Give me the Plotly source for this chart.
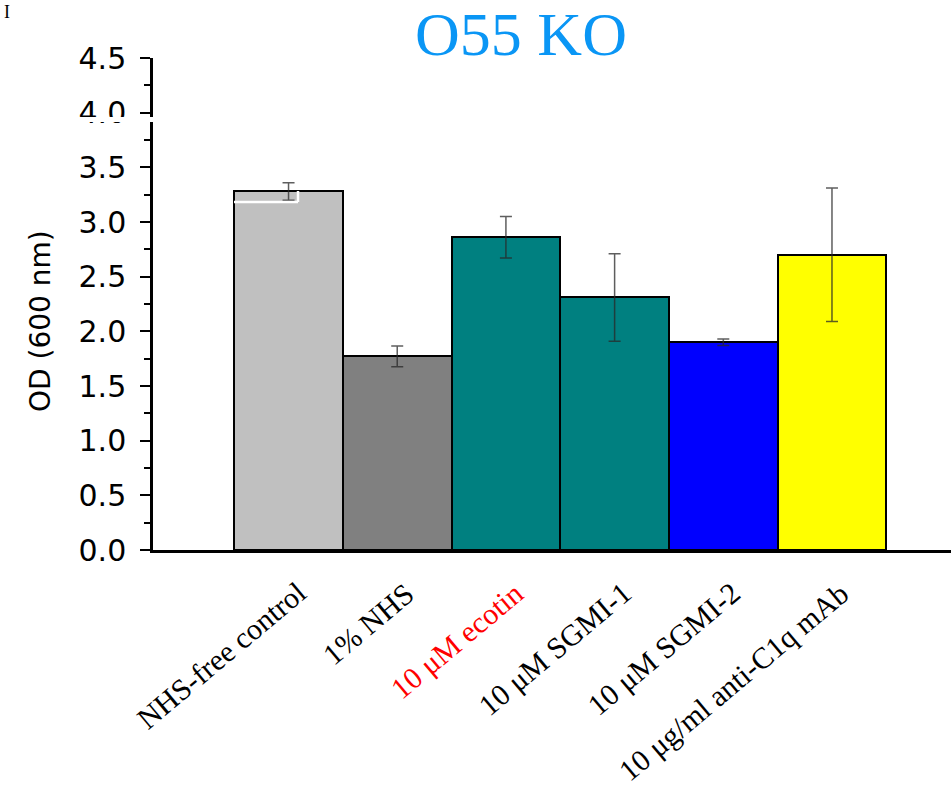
import plotly.graph_objects as go

categories = ["NHS-free control", "1% NHS", "10 μM ecotin", "10 μM SGMI-1",
              "10 μM SGMI-2", "10 μg/ml anti-C1q mAb"]
od_values = [3.28, 1.77, 2.86, 2.31, 1.90, 2.70]
od_errors = [0.08, 0.095, 0.19, 0.40, 0.03, 0.61]
bar_colors = ["#C0C0C0", "#808080", "#008080", "#008080", "#0000FF", "#FFFF00"]
label_colors = ["black", "black", "red", "black", "black", "black"]
y_ticks = [0.0, 0.5, 1.0, 1.5, 2.0, 2.5, 3.0, 3.5, 4.0, 4.5]

W, H = 951, 791
L, R, T, B = 153, 0, 58, 241
pw, ph = W - L - R, H - T - B

xpos = list(range(len(categories)))

fig = go.Figure()
fig.add_trace(go.Bar(
    x=xpos, y=od_values,
    marker=dict(color=bar_colors, line=dict(color="black", width=2)),
    error_y=dict(type="data", array=od_errors, visible=True,
                 color="rgba(40,40,40,0.75)", thickness=1.5, width=6),
    width=1.0,
))

def px_x(p):
    return (p - L) / pw

def px_y(p):
    return (H - B - p) / ph

shapes = [
    # axis break band
    dict(type="rect", xref="paper", yref="paper",
         x0=px_x(60), x1=px_x(160), y0=px_y(122), y1=px_y(117),
         fillcolor="white", line=dict(width=0), layer="above"),
    dict(type="line", xref="paper", yref="paper",
         x0=px_x(234), x1=px_x(298), y0=px_y(202), y1=px_y(202),
         line=dict(color="white", width=2.5), layer="above"),
    dict(type="line", xref="paper", yref="paper",
         x0=px_x(298), x1=px_x(298), y0=px_y(202), y1=px_y(191),
         line=dict(color="white", width=2.5), layer="above"),
]

annotations = [
    dict(text="OD (600 nm)", xref="paper", yref="paper", x=px_x(40), y=px_y(321),
         xanchor="center", yanchor="middle", textangle=-90, showarrow=False,
         font=dict(family="DejaVu Sans", size=28, color="black")),
    dict(text="I", xref="paper", yref="paper", x=px_x(2), y=px_y(0),
         xanchor="left", yanchor="top", showarrow=False,
         font=dict(family="Liberation Serif", size=18, color="black")),
]
for xp, name, col in zip(xpos, categories, label_colors):
    annotations.append(dict(
        text=name, xref="x", yref="paper", x=xp, y=0,
        xanchor="right", yanchor="top", xshift=26, yshift=-23,
        textangle=-40, showarrow=False,
        font=dict(family="Liberation Serif", size=30, color=col)))

fig.update_layout(
    width=W, height=H,
    margin=dict(l=L, r=R, t=T, b=B, pad=0, autoexpand=False),
    paper_bgcolor="white", plot_bgcolor="white",
    showlegend=False, bargap=0,
    title=dict(text="O55 KO", x=521 / W, xanchor="center", y=1 - 33 / H,
               yanchor="middle", yref="container", automargin=False,
               font=dict(family="Liberation Serif", size=62, color="#0A96F5")),
    xaxis=dict(range=[-1.247, 6.095], tickmode="array", tickvals=xpos,
               showticklabels=False, ticks="", automargin=False,
               showline=True, linecolor="black", linewidth=2.5,
               showgrid=False, zeroline=False),
    yaxis=dict(range=[0, 4.5], tickmode="array", tickvals=y_ticks,
               ticktext=[f"{v:.1f}" for v in y_ticks], automargin=False,
               ticks="outside", ticklen=10, tickwidth=2, tickcolor="black",
               ticklabelstandoff=8,
               minor=dict(ticks="outside", ticklen=6, tickwidth=2,
                          tickcolor="black", dtick=0.25, tick0=0),
               showline=True, linecolor="black", linewidth=2.5,
               showgrid=False, zeroline=False,
               tickfont=dict(family="DejaVu Sans", size=30, color="black")),
    shapes=shapes,
    annotations=annotations,
)

fig.write_html("out.html", config={"displayModeBar": False},
               post_script="document.body.style.margin='0px';")
